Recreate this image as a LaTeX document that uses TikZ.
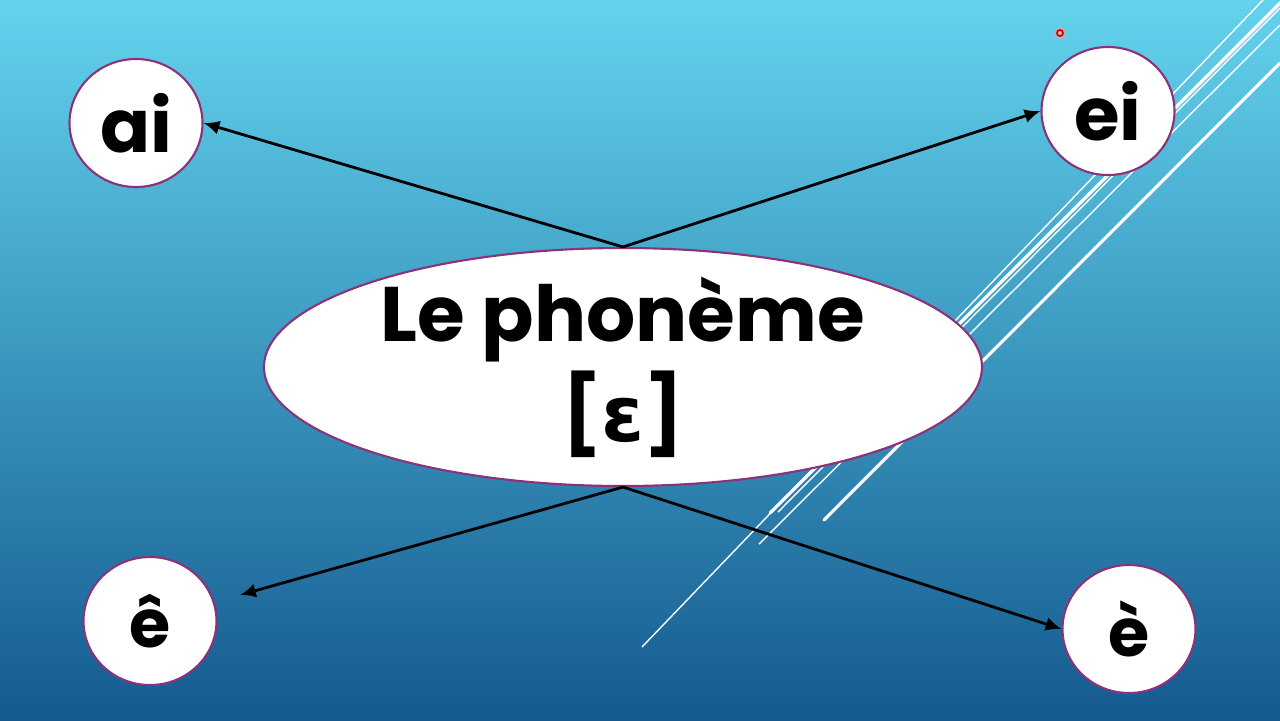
\documentclass[tikz,border=0pt]{standalone}
\usepackage{fontspec}
\setmainfont{Poppins}
\newfontfamily\ipafont{DejaVu Sans}
\usetikzlibrary{arrows.meta,shapes.geometric}

\definecolor{skytop}{RGB}{99,211,237}
\definecolor{skymid}{RGB}{62,162,204}
\definecolor{skybot}{RGB}{20,90,144}
\definecolor{rim}{RGB}{140,50,120}

\begin{document}
\begin{tikzpicture}[x=0.1mm,y=-0.1mm,
    bubble/.style={ellipse,draw=rim,line width=0.6pt,fill=white,inner sep=0pt,
      minimum width=13.3mm,minimum height=12.8mm,font=\bfseries\fontsize{21}{21}\selectfont},
    link/.style={-{Latex[length=4.5pt,width=4pt]},line width=0.8pt,black},
    streak/.style={white,line width=0.4pt},
    thickstreak/.style={white,line width=0.9pt,line cap=round}]
  \useasboundingbox (0,0) rectangle (1280,720);
  % background
  \shade[top color=skytop,middle color=skymid,bottom color=skybot] (0,0) rectangle (1280,720);
  \draw[streak] (642,647) -- (1263,0);
  \draw[thickstreak] (770,513) -- (1283,0);
  \draw[streak] (778,512) -- (1280,8);
  \draw[streak] (759,544) -- (1280,25);
  \draw[thickstreak] (824,520) -- (1280,63);
  % pointer dot
  \fill[red!40,opacity=0.5] (1060,33) circle (6);
  \draw[red!80!black,line width=0.5pt,fill=red!25] (1060,33) circle (3);
  % nodes
  \draw
    (623,367) node[bubble,minimum width=71.8mm,minimum height=23.8mm,align=center,
      inner xsep=0pt,inner ysep=-12pt,
      font=\bfseries\fontsize{22}{28.5}\selectfont] (phoneme){Le phonème\\{}[{\ipafont ɛ}]}
    (136,123) node[bubble] (ai){ai}
    (1108,111) node[bubble] (ei){ei}
    (150,621) node[bubble,font=\bfseries\fontsize{19}{19}\selectfont] (ecirc){ê}
    (1129,629) node[bubble,font=\bfseries\fontsize{19}{19}\selectfont] (egrave){è};
  \coordinate (ecirctip) at (240,595);
  \begin{scope}[link]
    \draw (phoneme.north) to (ai.east);
    \draw (phoneme.north) to (ei.west);
    \draw (phoneme.south) to (ecirctip);
    \draw (phoneme.south) to (egrave.west);
  \end{scope}
\end{tikzpicture}
\end{document}
